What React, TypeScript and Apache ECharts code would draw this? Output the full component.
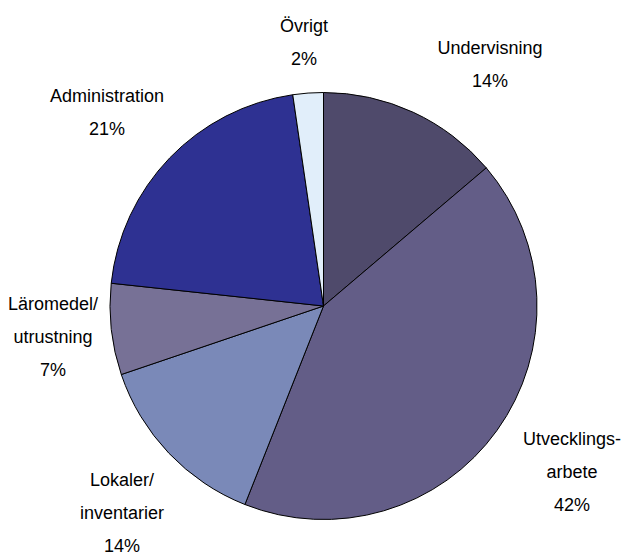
import React, { useEffect, useRef } from 'react';
import * as echarts from 'echarts';

const categories = [
  'Undervisning',
  'Utvecklings-\narbete',
  'Lokaler/\ninventarier',
  'Läromedel/\nutrustning',
  'Administration',
  'Övrigt',
];
const shares = [13.8, 42.2, 13.8, 6.9, 21.0, 2.3];

const sliceColors = ['#4F4A6B', '#635D87', '#7A89B8', '#777196', '#2E3192', '#E1EEFA'];
const labelCenters: number[][] = [
  [490, 64],
  [572, 472],
  [122, 513],
  [53, 337],
  [107, 112],
  [304, 42],
];

export default function App() {
  const ref = useRef<HTMLDivElement>(null);
  useEffect(() => {
    document.body.style.margin = '0';
    const chart = echarts.init(ref.current!, null, { renderer: 'svg' });
    chart.setOption({
      animation: false,
      backgroundColor: '#ffffff',
      series: [
        {
          type: 'pie',
          center: [323.5, 306],
          radius: 213.5,
          startAngle: 90,
          clockwise: true,
          percentPrecision: 0,
          avoidLabelOverlap: false,
          data: categories.map((name, i) => ({
            name,
            value: shares[i],
            itemStyle: { color: sliceColors[i] },
          })),
          itemStyle: { borderColor: '#000000', borderWidth: 1 },
          label: {
            show: true,
            position: 'outside',
            formatter: '{b}\n{d}%',
            color: '#000000',
            fontSize: 18,
            lineHeight: 33,
            fontFamily: "'Liberation Sans', Arial, sans-serif",
            align: 'center',
          },
          labelLine: { show: false },
          labelLayout: (params: any) => {
            const c = labelCenters[params.dataIndex];
            return { x: c[0], y: c[1], align: 'center', verticalAlign: 'middle' };
          },
          emphasis: { disabled: true },
        },
      ],
    });
    return () => chart.dispose();
  }, []);
  return <div ref={ref} style={{ width: 631, height: 555 }} />;
}
